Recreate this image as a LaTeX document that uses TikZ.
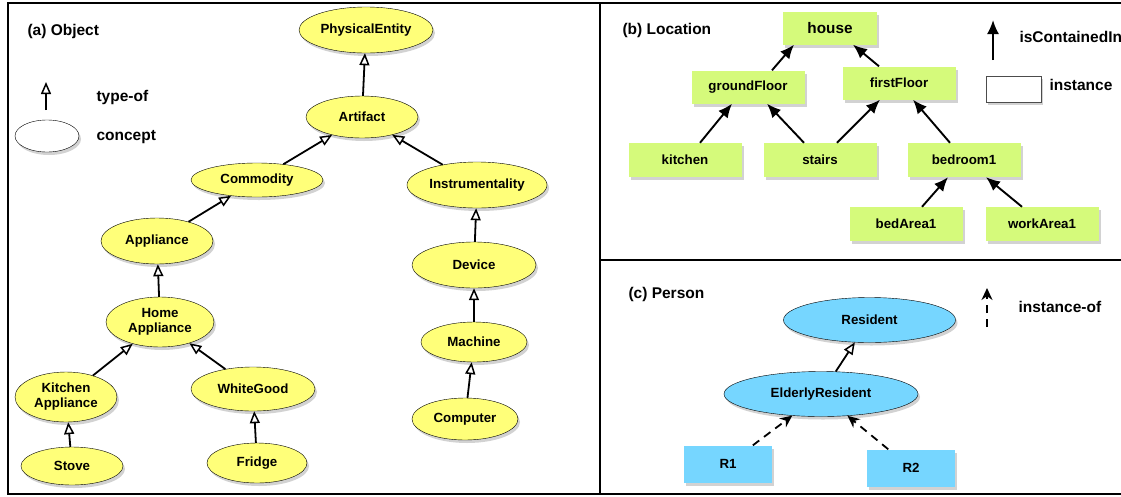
\documentclass[tikz,border=0pt]{standalone}
\usepackage{fontspec}
\setmainfont{Liberation Sans}
\usepackage{tikz}
\usepackage{xcolor}
\usetikzlibrary{shapes.geometric,shadows,arrows.meta}
\definecolor{conceptyellow}{RGB}{255,255,121}
\definecolor{roomgreen}{RGB}{213,250,123}
\definecolor{personblue}{RGB}{118,214,255}

\begin{document}
\begin{tikzpicture}[x=1pt,y=-1pt,
  shade/.style={drop shadow={shadow xshift=2pt,shadow yshift=-3pt,opacity=.35}},
  concept/.style={ellipse,draw,fill=conceptyellow,inner sep=0pt,align=center,shade,font=\fontsize{13.3}{15}\selectfont\bfseries},
  person/.style={concept,fill=personblue},
  room/.style={rectangle,fill=roomgreen,inner sep=0pt,minimum width=113pt,minimum height=34pt,shade,font=\fontsize{13.3}{15}\selectfont\bfseries},
  resbox/.style={room,fill=personblue,minimum width=88pt,minimum height=37pt},
  label/.style={anchor=west,font=\fontsize{15.5}{17}\selectfont\bfseries},
  typeof/.style={line width=1.8pt,-{Triangle[open,length=12pt,width=10pt,line width=1.5pt]}},
  contain/.style={line width=1.9pt,-{Latex[length=14pt,width=12pt]}},
  instof/.style={line width=1.8pt,dash pattern=on 8pt off 6pt,-{Stealth[length=12pt,width=11pt]}},
  panel/.style={line width=2.6pt}]
\useasboundingbox (0,0) rectangle (1121,496);
\fill[white] (0,0) rectangle (1121,496);
\draw[panel] (8,3) rectangle (600,494);
\draw[panel] (600,3) -- (1125,3);
\draw[panel] (600,260) -- (1125,260);
\draw[panel] (600,494) -- (1125,494);

\node[label] (objtitle) at (24,31) {(a) Object};
\coordinate (typeofbot) at (46,110);
\coordinate (typeoftop) at (46,82);
\draw[typeof] (typeofbot) -- (typeoftop);
\node[label] (typeoftext) at (93,97) {type-of};
\node[concept,fill=white,minimum width=64pt,minimum height=32pt] (conceptkey) at (47,136) {};
\node[label] (concepttext) at (93,137) {concept};

\node[concept,minimum width=134pt,minimum height=46pt] (physent) at (366,30) {PhysicalEntity};
\node[concept,minimum width=112pt,minimum height=42pt] (artifact) at (362,117) {Artifact};
\node[concept,minimum width=132pt,minimum height=34pt] (commodity) at (257,180) {Commodity};
\node[concept,minimum width=140pt,minimum height=46pt] (instrum) at (477,185) {Instrumentality};
\node[concept,minimum width=112pt,minimum height=46pt] (appliance) at (157,241) {Appliance};
\node[concept,minimum width=124pt,minimum height=46pt] (device) at (474,265) {Device};
\node[concept,minimum width=108pt,minimum height=50pt] (homeapp) at (160,322) {Home\\Appliance};
\node[concept,minimum width=106pt,minimum height=40pt] (machine) at (474,342) {Machine};
\node[concept,minimum width=102pt,minimum height=50pt] (kitchenapp) at (66,397) {Kitchen\\Appliance};
\node[concept,minimum width=124pt,minimum height=44pt] (whitegood) at (253,389) {WhiteGood};
\node[concept,minimum width=106pt,minimum height=42pt] (computer) at (465,419) {Computer};
\node[concept,minimum width=102pt,minimum height=38pt] (stove) at (72,466) {Stove};
\node[concept,minimum width=100pt,minimum height=40pt] (fridge) at (257,463) {Fridge};

\draw[typeof] (artifact) -- (physent);
\draw[typeof] (commodity) -- (artifact);
\draw[typeof] (instrum) -- (artifact);
\draw[typeof] (appliance) -- (commodity);
\draw[typeof] (device) -- (instrum);
\draw[typeof] (homeapp) -- (appliance);
\draw[typeof] (machine) -- (device);
\draw[typeof] (kitchenapp) -- (homeapp);
\draw[typeof] (whitegood) -- (homeapp);
\draw[typeof] (computer) -- (machine);
\draw[typeof] (stove) -- (kitchenapp);
\draw[typeof] (fridge) -- (whitegood);

\node[label] (loctitle) at (619,30) {(b) Location};
\coordinate (containbot) at (993,60);
\coordinate (containtop) at (993,20);
\draw[contain] (containbot) -- (containtop);
\node[label] (containtext) at (1016,37) {isContainedIn};
\node[rectangle,draw=black!70,fill=white,minimum width=55pt,minimum height=26pt,shade] (instkey) at (1013.5,89) {};
\node[label] (insttext) at (1046,85) {instance};

\node[room,minimum width=94pt,minimum height=33pt,font=\fontsize{15.3}{17}\selectfont\bfseries] (house) at (830,28) {house};
\node[room,minimum height=33pt] (groundfloor) at (748,87) {groundFloor};
\node[room,minimum height=33pt] (firstfloor) at (899,83) {firstFloor};
\node[room] (kitchen) at (685,160) {kitchen};
\node[room] (stairs) at (820,160) {stairs};
\node[room] (bedroom) at (964,160) {bedroom1};
\node[room] (bedarea) at (906,224) {bedArea1};
\node[room] (workarea) at (1042,224) {workArea1};

\draw[contain] ([xshift=24pt]groundfloor.north) -- ([xshift=-36pt]house.south);
\draw[contain] ([xshift=-20pt]firstfloor.north) -- ([xshift=23pt]house.south);
\draw[contain] ([xshift=15pt]kitchen.north) -- ([xshift=-16pt]groundfloor.south);
\draw[contain] ([xshift=-16pt]stairs.north) -- ([xshift=19pt]groundfloor.south);
\draw[contain] ([xshift=17pt]stairs.north) -- ([xshift=-19pt]firstfloor.south);
\draw[contain] ([xshift=-14pt]bedroom.north) -- ([xshift=14pt]firstfloor.south);
\draw[contain] ([xshift=16pt]bedarea.north) -- ([xshift=-16pt]bedroom.south);
\draw[contain] ([xshift=-20pt]workarea.north) -- ([xshift=22pt]bedroom.south);

\node[label] (pertitle) at (625,294) {(c) Person};
\coordinate (instofbot) at (987,327);
\coordinate (instoftop) at (987,288);
\draw[instof] (instofbot) -- (instoftop);
\node[label] (instoftext) at (1015,307) {instance-of};

\node[person,minimum width=172pt,minimum height=45pt] (resident) at (869.5,320) {Resident};
\node[person,minimum width=194pt,minimum height=45pt] (elderly) at (821,394) {ElderlyResident};
\node[resbox] (rone) at (728,464) {R1};
\node[resbox] (rtwo) at (911,468) {R2};

\draw[typeof] (elderly) -- (resident);
\draw[instof] (rone) -- (elderly);
\draw[instof] (rtwo) -- (elderly);
\end{tikzpicture}
\end{document}
